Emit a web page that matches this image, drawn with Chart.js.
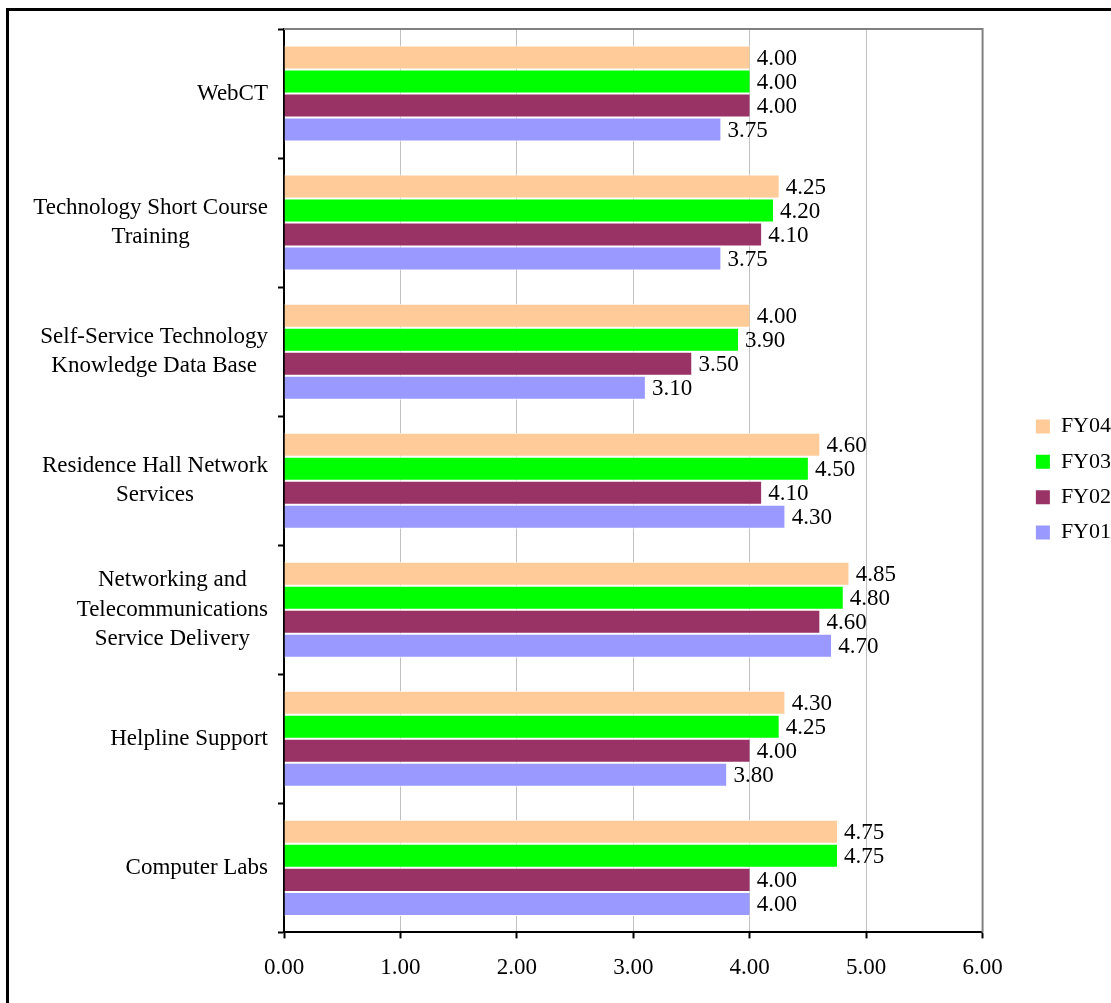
<!DOCTYPE html>
<html>
<head>
<meta charset="utf-8">
<script src="https://cdn.jsdelivr.net/npm/chart.js@4/dist/chart.umd.min.js"></script>
<style>
  html, body { margin: 0; padding: 0; background: #fff; overflow: hidden; }
  #wrap { position: relative; width: 1111px; height: 1003px; }
  #frame { position: absolute; left: 6px; top: 8px; width: 1200px; height: 1200px; border: 3px solid #000; }
  canvas { position: absolute; left: 0; top: 0; }
</style>
</head>
<body>
<div id="wrap">
  <div id="frame"></div>
  <canvas id="chart" width="1111" height="1003"></canvas>
</div>
<script>
// categories, top to bottom
const categories = [
  "WebCT",
  ["Technology Short Course", "Training"],
  ["Self-Service Technology", "Knowledge Data Base"],
  ["Residence Hall Network", "Services"],
  ["Networking and", "Telecommunications", "Service Delivery"],
  "Helpline Support",
  "Computer Labs",
];

const fy04 = [4.0, 4.25, 4.0, 4.6, 4.85, 4.3, 4.75];
const fy03 = [4.0, 4.2, 3.9, 4.5, 4.8, 4.25, 4.75];
const fy02 = [4.0, 4.1, 3.5, 4.1, 4.6, 4.0, 4.0];
const fy01 = [3.75, 3.75, 3.1, 4.3, 4.7, 3.8, 4.0];

const xTicks = [0, 1, 2, 3, 4, 5, 6];

const FONT = "'Liberation Serif', 'Times New Roman', serif";
Chart.defaults.font.family = FONT;
Chart.defaults.font.size = 23;
Chart.defaults.color = "#000";

const bar = (label, data, color) => ({
  label,
  data,
  backgroundColor: color,
  borderColor: "#fff",
  borderWidth: { top: 1, bottom: 1, left: 0, right: 0 },
  borderSkipped: false,
  categoryPercentage: 0.744,
  barPercentage: 1,
});

// category labels: lines centred on each other, block right-aligned to the axis
const categoryLabels = {
  id: "categoryLabels",
  afterDraw(chart) {
    const { ctx } = chart;
    const y = chart.scales.y;
    const right = chart.chartArea.left - 16;
    const lineH = 29.5;
    ctx.save();
    ctx.font = "23px " + FONT;
    ctx.fillStyle = "#000";
    ctx.textAlign = "center";
    ctx.textBaseline = "middle";
    categories.forEach((c, i) => {
      const lines = Array.isArray(c) ? c : [c];
      const w = Math.max(...lines.map((l) => ctx.measureText(l).width));
      const cx = right - w / 2;
      const cy = y.getPixelForTick(i);
      lines.forEach((l, k) => {
        ctx.fillText(l, cx, cy + (k - (lines.length - 1) / 2) * lineH);
      });
    });
    ctx.restore();
  },
};

// value labels at the end of each bar
const valueLabels = {
  id: "valueLabels",
  afterDatasetsDraw(chart) {
    const { ctx } = chart;
    ctx.save();
    ctx.font = "23px " + FONT;
    ctx.fillStyle = "#000";
    ctx.textAlign = "left";
    ctx.textBaseline = "middle";
    chart.data.datasets.forEach((ds, di) => {
      chart.getDatasetMeta(di).data.forEach((el, i) => {
        ctx.fillText(ds.data[i].toFixed(2), el.x + 7, el.y + 1);
      });
    });
    ctx.restore();
  },
};

// grey top and right edge of the plot area
const plotFrame = {
  id: "plotFrame",
  afterDatasetsDraw(chart) {
    const { ctx, chartArea: a } = chart;
    ctx.save();
    ctx.strokeStyle = "#808080";
    ctx.lineWidth = 2;
    ctx.beginPath();
    ctx.moveTo(a.left, a.top);
    ctx.lineTo(a.right, a.top);
    ctx.lineTo(a.right, a.bottom);
    ctx.stroke();
    ctx.restore();
  },
};

// move the legend column to where it sits in the original
const legendShift = {
  id: "legendShift",
  afterLayout(chart) {
    const lg = chart.legend;
    lg.left += 40; lg.right += 40;
    lg.top -= 34; lg.bottom -= 34;
  },
};

new Chart(document.getElementById("chart"), {
  type: "bar",
  data: {
    labels: categories,
    datasets: [
      bar("FY04", fy04, "#FFCC99"),
      bar("FY03", fy03, "#00FF00"),
      bar("FY02", fy02, "#993366"),
      bar("FY01", fy01, "#9999FF"),
    ],
  },
  options: {
    indexAxis: "y",
    responsive: false,
    animation: false,
    layout: { padding: { left: 278, top: 29, right: 30, bottom: 5 } },
    scales: {
      x: {
        min: 0,
        max: 6,
        afterBuildTicks: (s) => { s.ticks = xTicks.map((v) => ({ value: v })); },
        ticks: { callback: (v) => v.toFixed(2), padding: 16, maxRotation: 0 },
        grid: { color: "#c0c0c0", lineWidth: 1, tickColor: "#000", tickLength: 6, tickWidth: 2 },
        border: { color: "#000", width: 2 },
      },
      y: {
        ticks: { display: false },
        grid: { drawOnChartArea: false, tickColor: "#000", tickLength: 6, tickWidth: 2 },
        border: { color: "#000", width: 2 },
      },
    },
    plugins: {
      tooltip: { enabled: false },
      legend: {
        position: "right",
        labels: {
          boxWidth: 14,
          boxHeight: 14,
          padding: 13.3,
          font: { size: 22 },
          generateLabels: (chart) =>
            Chart.defaults.plugins.legend.labels.generateLabels(chart).map((l) => ({ ...l, lineWidth: 0 })),
        },
      },
    },
  },
  plugins: [categoryLabels, valueLabels, plotFrame, legendShift],
});
</script>
</body>
</html>
